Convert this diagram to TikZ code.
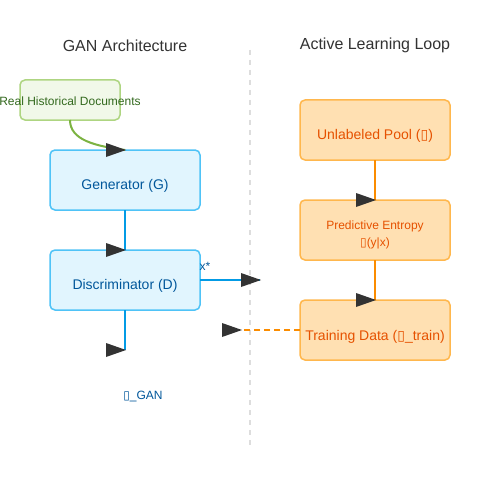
\documentclass[tikz,border=0pt]{standalone}
\usepackage{fontspec}
\setmainfont{Liberation Sans}
\newfontfamily\dejavu{DejaVu Sans}
\newcommand{\tofu}{{\dejavu\char"25AF}}
\usetikzlibrary{calc}
\definecolor{gfill}{HTML}{F1F8E9}
\definecolor{gdraw}{HTML}{AED581}
\definecolor{gtext}{HTML}{33691E}
\definecolor{gline}{HTML}{7CB342}
\definecolor{bfill}{HTML}{E1F5FE}
\definecolor{bdraw}{HTML}{4FC3F7}
\definecolor{btext}{HTML}{01579B}
\definecolor{bline}{HTML}{039BE5}
\definecolor{ofill}{HTML}{FFE0B2}
\definecolor{odraw}{HTML}{FFB74D}
\definecolor{otext}{HTML}{E65100}
\definecolor{oline}{HTML}{FB8C00}
\definecolor{tipcol}{HTML}{333333}
\definecolor{titlecol}{HTML}{333333}
\definecolor{divcol}{HTML}{DDDDDD}
\newcommand{\rtip}[1]{\fill[tipcol] ($#1+(-19,-7)$) -- ($#1+(1,0)$) -- ($#1+(-19,7)$) -- cycle;}
\tikzset{
  boxbase/.style={rounded corners=5pt, line width=1.5pt, inner sep=0pt, outer sep=0pt, anchor=north west},
  bigbox/.style={boxbase, minimum width=150pt, minimum height=60pt},
  greenbox/.style={boxbase, draw=gdraw, fill=gfill, minimum width=100pt, minimum height=40pt},
  bluebox/.style={bigbox, draw=bdraw, fill=bfill},
  orangebox/.style={bigbox, draw=odraw, fill=ofill},
  boxtext/.style={font=\fontsize{14}{17}\selectfont, inner sep=0pt},
  smalltext/.style={font=\fontsize{12}{17}\selectfont, inner sep=0pt},
  titletext/.style={font=\fontsize{16}{19}\selectfont, text=titlecol, inner sep=0pt},
  conn/.style={line width=2pt},
}
\begin{document}
\begin{tikzpicture}[x=1pt,y=-1pt]
\useasboundingbox (0,0) rectangle (500,500);
\fill[white] (0,0) rectangle (500,500);
% titles
\node[titletext] (t1) at (125,45.5) {GAN Architecture};
\node[titletext] (t2) at (375,45.5) {Active Learning Loop};
% divider
\coordinate (d1) at (250,50);
\coordinate (d2) at (250,445);
\draw[divcol, line width=2pt, dash pattern=on 5pt off 5pt] (d1) -- (d2);
% left boxes
\node[greenbox, label={[smalltext, text=gtext, yshift=-1.5pt]center:Real Historical Documents}] (real) at (20,80) {};
\node[bluebox, label={[boxtext, text=btext, yshift=-6pt]center:Generator (G)}] (gen) at (50,150) {};
\node[bluebox, label={[boxtext, text=btext, yshift=-6pt]center:Discriminator (D)}] (dis) at (50,250) {};
% right boxes
\node[orangebox, label={[boxtext, text=otext, yshift=-6pt]center:Unlabeled Pool (\tofu)}] (pool) at (300,100) {};
\node[orangebox, label={[smalltext, text=otext, align=center, yshift=-5pt]center:Predictive Entropy\\\tofu(y|x)}] (ent) at (300,200) {};
\node[orangebox, label={[boxtext, text=otext, yshift=-6.5pt]center:Training Data (\tofu\_train)}] (train) at (300,300) {};
% connectors
\draw[conn, gline] (real.south) .. controls (70,140) and (95,146) .. (gen.north);
\rtip{(gen.north)}
\draw[conn, bline] (gen.south) -- (dis.north);
\rtip{(dis.north)}
\coordinate (xs) at (260,280);
\draw[conn, bline] (dis.east) -- (xs);
\rtip{(xs)}
\node[smalltext, text=btext] (xlab) at (205,266) {x*};
\coordinate (lend) at (125,350);
\draw[conn, bline] (dis.south) -- (lend);
\rtip{(lend)}
\node[smalltext, text=btext] (lgan) at (143,396) {\tofu\_GAN};
\draw[conn, oline] (pool.south) -- (ent.north);
\rtip{(ent.north)}
\draw[conn, oline] (ent.south) -- (train.north);
\rtip{(train.north)}
\coordinate (dend) at (241,330);
\draw[conn, oline, dash pattern=on 6pt off 4pt] (train.west) -- (dend);
\rtip{(dend)}
\end{tikzpicture}
\end{document}
